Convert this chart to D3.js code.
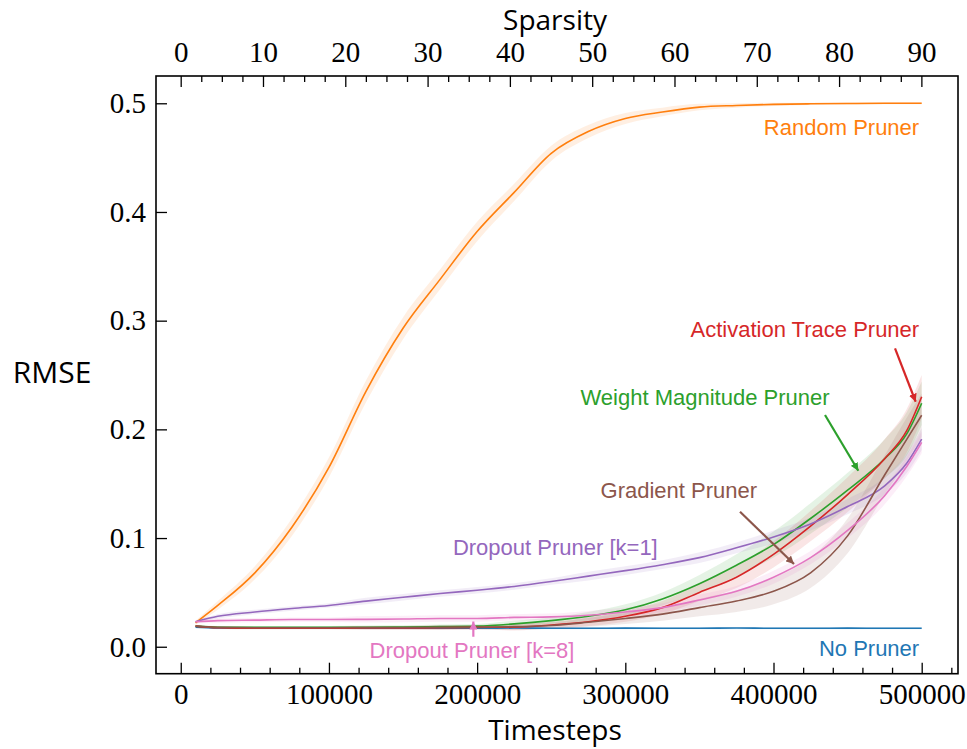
<!DOCTYPE html>
<html>
<head>
<meta charset="utf-8">
<script src="https://cdn.jsdelivr.net/npm/d3@7"></script>
<style>
  html, body { margin: 0; padding: 0; background: #ffffff; }
  svg { display: block; }
</style>
</head>
<body>
<svg id="chart" width="967" height="749"></svg>
<script>
// ---------------- DATA ----------------
const timesteps = [10000, 25000, 50000, 75000, 100000, 125000, 150000, 175000, 200000, 225000, 250000,
                   275000, 300000, 325000, 350000, 375000, 400000, 425000, 450000, 475000, 490000, 500000];

const noPruner        = [0.018, 0.0172, 0.017, 0.017, 0.0172, 0.017, 0.0171, 0.017, 0.017, 0.0172, 0.017,
                         0.017, 0.0171, 0.017, 0.017, 0.0172, 0.017, 0.017, 0.0171, 0.017, 0.017, 0.017];
const randomPruner    = [0.022, 0.038, 0.068, 0.110, 0.165, 0.235, 0.293, 0.338, 0.382, 0.418, 0.454,
                         0.474, 0.486, 0.492, 0.4965, 0.498, 0.499, 0.4995, 0.4998, 0.5, 0.5, 0.5];
const weightMagnitude = [0.019, 0.018, 0.0178, 0.0178, 0.018, 0.018, 0.0182, 0.0185, 0.019, 0.021, 0.024,
                         0.028, 0.034, 0.044, 0.058, 0.075, 0.094, 0.118, 0.144, 0.173, 0.196, 0.224];
const activationTrace = [0.019, 0.0175, 0.017, 0.017, 0.017, 0.0172, 0.0172, 0.0175, 0.0178, 0.018, 0.020,
                         0.023, 0.028, 0.036, 0.050, 0.064, 0.085, 0.111, 0.140, 0.173, 0.199, 0.230];
const dropoutK1       = [0.023, 0.028, 0.032, 0.0352, 0.038, 0.042, 0.0455, 0.049, 0.052, 0.0555, 0.060,
                         0.065, 0.070, 0.0755, 0.082, 0.091, 0.101, 0.113, 0.129, 0.148, 0.169, 0.191];
const gradientPruner  = [0.019, 0.0178, 0.0175, 0.0175, 0.0175, 0.0176, 0.0177, 0.0178, 0.018, 0.0185, 0.0195,
                         0.0225, 0.026, 0.030, 0.036, 0.042, 0.051, 0.068, 0.102, 0.158, 0.191, 0.213];
const dropoutK8       = [0.023, 0.024, 0.0245, 0.025, 0.025, 0.0252, 0.0255, 0.026, 0.026, 0.027, 0.0275,
                         0.029, 0.032, 0.036, 0.043, 0.051, 0.064, 0.082, 0.107, 0.139, 0.166, 0.188];

// half-widths of the shaded bands
const noPrunerBand    = [0.001, 0.001, 0.001, 0.001, 0.001, 0.001, 0.001, 0.001, 0.001, 0.001, 0.001,
                         0.001, 0.001, 0.001, 0.001, 0.001, 0.001, 0.001, 0.001, 0.001, 0.001, 0.001];
const randomBand      = [0.002, 0.004, 0.006, 0.008, 0.009, 0.010, 0.010, 0.009, 0.009, 0.008, 0.007,
                         0.006, 0.005, 0.004, 0.003, 0.002, 0.0015, 0.001, 0.001, 0.001, 0.001, 0.001];
const lateBand        = [0.001, 0.001, 0.001, 0.001, 0.001, 0.0015, 0.0015, 0.002, 0.002, 0.003, 0.003,
                         0.004, 0.005, 0.006, 0.008, 0.010, 0.012, 0.014, 0.016, 0.018, 0.020, 0.020];
const dropoutBand     = [0.001, 0.002, 0.002, 0.002, 0.002, 0.003, 0.003, 0.003, 0.003, 0.003, 0.003,
                         0.004, 0.004, 0.004, 0.005, 0.005, 0.006, 0.006, 0.007, 0.008, 0.009, 0.010];

const seriesNames  = ["No Pruner", "Random Pruner", "Weight Magnitude Pruner", "Activation Trace Pruner",
                      "Dropout Pruner [k=1]", "Gradient Pruner", "Dropout Pruner [k=8]"];
const seriesValues = [noPruner, randomPruner, weightMagnitude, activationTrace, dropoutK1, gradientPruner, dropoutK8];
const seriesBands  = [noPrunerBand, randomBand, lateBand, lateBand, dropoutBand, lateBand, dropoutBand];
const seriesColors = ["#1f77b4", "#ff7f0e", "#2ca02c", "#d62728", "#9467bd", "#8c564b", "#e377c2"];

const xTicks        = [0, 100000, 200000, 300000, 400000, 500000];
const yTicks        = [0.0, 0.1, 0.2, 0.3, 0.4, 0.5];
const sparsityTicks = [0, 10, 20, 30, 40, 50, 60, 70, 80, 90];

// annotation: [series index, text x (timestep), text baseline (RMSE), anchor, arrow tail t, tail v, tip t, tip v]
const annotations = [
  [1, 498300, 0.4708, "end",    null,   null,   null,   null],
  [3, 498300, 0.2847, "end",    482000, 0.2746, 495950, 0.2254],
  [2, 353780, 0.2224, "middle", 434750, 0.2132, 457220, 0.1619],
  [5, 336100, 0.1364, "middle", 377400, 0.1242, 413830, 0.0761],
  [4, 252770, 0.0844, "middle", null,   null,   null,   null],
  [6, 196560, -0.0099, "middle", 197440, 0.0092, 197440, 0.0232],
  [0, 498300, -0.0086, "end",   null,   null,   null,   null]
];

// ---------------- LAYOUT ----------------
const W = 967, H = 749;
const box = { left: 156, right: 958, top: 76, bottom: 673.7 };
const xDomain = [-16700, 524500];
const yDomain = [-0.0248, 0.5251];
const sDomain = [-3.0, 94.45];

const svg = d3.select("#chart");
svg.append("rect").attr("width", W).attr("height", H).attr("fill", "#fff");

const x = d3.scaleLinear().domain(xDomain).range([box.left, box.right]);
const y = d3.scaleLinear().domain(yDomain).range([box.bottom, box.top]);
const xs = d3.scaleLinear().domain(sDomain).range([box.left, box.right]);

const serif = "'Liberation Serif', 'Times New Roman', serif";
const sans = "'Open Sans', 'DejaVu Sans', sans-serif";
const arial = "'Liberation Sans', Arial, sans-serif";

const defs = svg.append("defs");
defs.append("clipPath").attr("id", "clip")
  .append("rect").attr("x", box.left).attr("y", box.top)
  .attr("width", box.right - box.left).attr("height", box.bottom - box.top);

const plot = svg.append("g").attr("clip-path", "url(#clip)");

// bands
seriesValues.forEach((vals, i) => {
  const band = seriesBands[i];
  const area = d3.area()
    .x((d, j) => x(timesteps[j]))
    .y0((d, j) => y(vals[j] - band[j]))
    .y1((d, j) => y(vals[j] + band[j]))
    .curve(d3.curveMonotoneX);
  plot.append("path").datum(vals).attr("d", area)
    .attr("fill", seriesColors[i]).attr("fill-opacity", 0.12).attr("stroke", "none");
});

// lines
seriesValues.forEach((vals, i) => {
  const line = d3.line()
    .x((d, j) => x(timesteps[j]))
    .y(d => y(d))
    .curve(d3.curveMonotoneX);
  plot.append("path").datum(vals).attr("d", line)
    .attr("fill", "none").attr("stroke", seriesColors[i]).attr("stroke-width", 1.6)
    .attr("stroke-linejoin", "round");
});

// arrow markers
seriesColors.forEach((c, i) => {
  defs.append("marker").attr("id", "arrow" + i)
    .attr("markerUnits", "userSpaceOnUse")
    .attr("viewBox", "0 0 10 10").attr("refX", 10).attr("refY", 5)
    .attr("markerWidth", 8).attr("markerHeight", 8).attr("orient", "auto")
    .append("path").attr("d", "M0,0 L10,5 L0,10 Z").attr("fill", c);
});

// annotations
annotations.forEach(a => {
  const [idx, tx, ty, anchor, t0, v0, t1, v1] = a;
  svg.append("text")
    .attr("x", x(tx)).attr("y", y(ty))
    .attr("text-anchor", anchor)
    .attr("font-family", arial).attr("font-size", 22)
    .attr("fill", seriesColors[idx])
    .text(seriesNames[idx]);
  if (t0 !== null) {
    svg.append("line")
      .attr("x1", x(t0)).attr("y1", y(v0))
      .attr("x2", x(t1)).attr("y2", y(v1))
      .attr("stroke", seriesColors[idx]).attr("stroke-width", 2.2)
      .attr("marker-end", "url(#arrow" + idx + ")");
  }
});

// ---------------- AXES ----------------
function styleAxis(g, size) {
  g.select(".domain").remove();
  g.selectAll(".tick line").attr("stroke", "#000").attr("stroke-width", 1.3);
  g.selectAll(".tick text").attr("font-family", serif).attr("font-size", size).attr("fill", "#000");
}

// bottom major
const gx = svg.append("g").attr("transform", `translate(0,${box.bottom})`)
  .call(d3.axisBottom(x).tickValues(xTicks).tickFormat(d3.format("d")).tickSizeInner(-11).tickSizeOuter(0).tickPadding(10));
styleAxis(gx, 29);
// bottom minor
const xMinor = d3.range(0, 520001, 20000).filter(v => v % 100000 !== 0);
const gxm = svg.append("g").attr("transform", `translate(0,${box.bottom})`)
  .call(d3.axisBottom(x).tickValues(xMinor).tickFormat("").tickSizeInner(-6).tickSizeOuter(0));
styleAxis(gxm, 29);

// top major
const gt = svg.append("g").attr("transform", `translate(0,${box.top})`)
  .call(d3.axisTop(xs).tickValues(sparsityTicks).tickFormat(d3.format("d")).tickSizeInner(-11).tickSizeOuter(0).tickPadding(14));
styleAxis(gt, 29);
const sMinor = d3.range(0, 90.01, 2.5).filter(v => v % 10 !== 0);
const gtm = svg.append("g").attr("transform", `translate(0,${box.top})`)
  .call(d3.axisTop(xs).tickValues(sMinor).tickFormat("").tickSizeInner(-6).tickSizeOuter(0));
styleAxis(gtm, 29);

// left
const gy = svg.append("g").attr("transform", `translate(${box.left},0)`)
  .call(d3.axisLeft(y).tickValues(yTicks).tickFormat(d3.format(".1f")).tickSizeInner(-11).tickSizeOuter(0).tickPadding(10));
styleAxis(gy, 29);

// frame
svg.append("rect")
  .attr("x", box.left).attr("y", box.top)
  .attr("width", box.right - box.left).attr("height", box.bottom - box.top)
  .attr("fill", "none").attr("stroke", "#000").attr("stroke-width", 1.6);

// axis titles
svg.append("text").attr("x", (box.left + box.right) / 2 - 2).attr("y", 740)
  .attr("text-anchor", "middle").attr("font-family", sans).attr("font-size", 28).attr("fill", "#000")
  .text("Timesteps");
svg.append("text").attr("x", (box.left + box.right) / 2 - 2).attr("y", 30)
  .attr("text-anchor", "middle").attr("font-family", sans).attr("font-size", 28).attr("fill", "#000")
  .text("Sparsity");
svg.append("text").attr("x", 52).attr("y", 383)
  .attr("text-anchor", "middle").attr("font-family", sans).attr("font-size", 30).attr("fill", "#000")
  .text("RMSE");
</script>
</body>
</html>
